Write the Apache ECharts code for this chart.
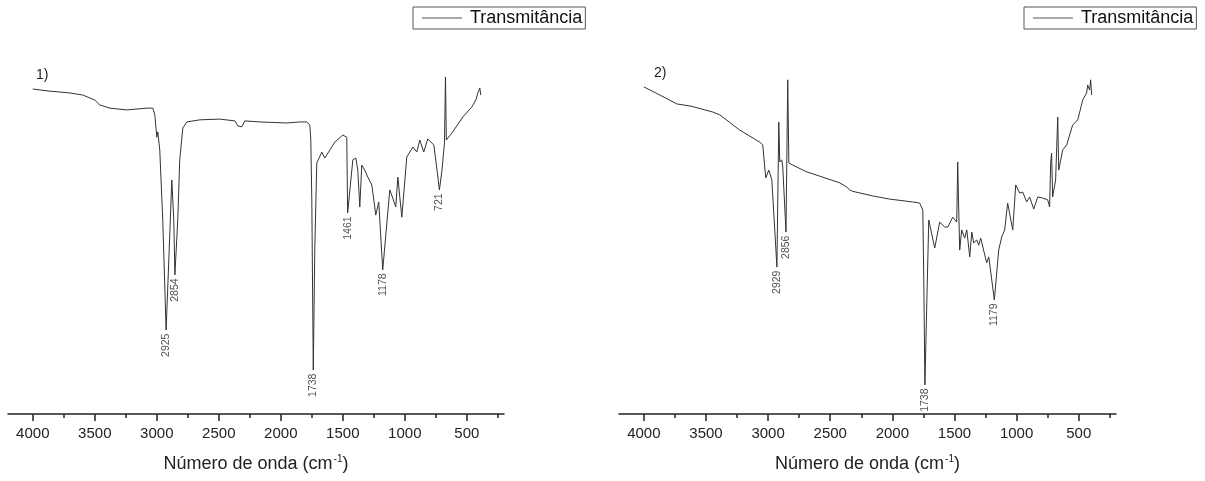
<!DOCTYPE html>
<html>
<head>
<meta charset="utf-8">
<script src="https://cdn.jsdelivr.net/npm/echarts@6/dist/echarts.min.js"></script>
<style>
  html, body { margin: 0; padding: 0; background: #fff; }
  #chart { width: 1205px; height: 481px; }
</style>
</head>
<body>
<div id="chart"></div>
<script>
// espectro 1) - numero de onda (cm-1) e transmitancia (%)
var wn1 = [4000,3863,3702,3597,3500,3460,3379,3242,3081,3032,3016,3000,2992,2976,2952,2925,2903,2879,2863,2854,
  2831,2815,2790,2758,2653,2492,2371,2347,2331,2315,2290,2169,1952,1847,1790,1766,1758,1750,1738,1726,
  1710,1669,1645,1565,1500,1468,1461,1419,1395,1379,1363,1347,1323,1298,1266,1234,1210,1178,1121,1097,
  1073,1056,1024,984,935,903,879,847,815,766,740,721,700,680,672,665,613,532,460,427,411,395,387];
var t1 = [91.8,91.2,90.7,90.1,88.7,87.3,86.4,85.9,86.4,86.4,84.5,78.2,79.7,74.6,54.8,23.7,43.5,66.1,54.8,39.3,
  54.8,71.8,80.8,82.5,83.1,83.3,82.8,81.4,81.9,81.1,82.8,82.5,82.2,82.5,82.5,81.6,77.4,60.5,12.4,46.3,
  70.9,74.0,72.3,76.8,78.8,78.2,56.8,71.8,72.3,68.9,58.5,70.3,68.9,66.9,64.7,56.2,59.9,40.7,63.3,61.0,
  58.5,66.9,55.6,72.6,75.4,74.0,77.4,74.0,77.7,76.0,68.9,63.3,68.9,76.6,95.2,77.4,79.7,83.9,86.7,88.7,90.7,92.1,90.1];
var peaks1 = [2925, 2854, 1738, 1461, 1178, 721];

// espectro 2)
var wn2 = [4000,3871,3735,3614,3445,3389,3228,3067,3043,3019,2994,2970,2944,2929,2914,2906,2890,2882,2856,2842,
  2833,2801,2689,2423,2367,2343,2319,2158,2021,1836,1780,1755,1747,1738,1707,1659,1619,1578,1554,1514,
  1482,1474,1466,1458,1442,1418,1401,1377,1361,1345,1321,1305,1289,1241,1224,1179,1144,1120,1096,1072,
  1031,1007,975,951,919,895,862,830,790,750,734,726,718,710,686,669,661,629,597,549,508,492,468,436,428,412,404,396];
var t2 = [92.4,90.1,87.6,86.9,85.3,84.5,80.2,76.8,76.0,66.7,68.9,66.1,50.6,41.5,82.5,71.2,71.8,69.8,51.4,94.4,
  70.9,70.3,68.4,65.3,64.1,63.3,62.9,61.6,60.7,59.9,59.6,57.6,37.9,8.2,54.8,46.9,54.2,52.8,52.8,55.6,
  54.2,71.2,58.2,46.3,52.0,49.7,52.0,44.4,51.4,48.3,49.2,47.7,49.7,42.7,44.4,32.2,46.3,50.0,52.0,59.6,
  52.0,64.7,62.4,62.7,59.9,61.3,57.9,61.3,61.0,60.5,58.5,70.9,73.7,61.3,66.1,83.9,68.9,74.6,76.0,81.6,
  83.1,85.3,88.7,90.7,92.9,91.5,94.4,90.1];
var peaks2 = [2929, 2856, 1738, 1179];

var majorTicks = [500,1000,1500,2000,2500,3000,3500,4000];
var minorTicks = [250,750,1250,1750,2250,2750,3250,3750];

var FONT = '"Liberation Sans", Arial, sans-serif';

function zip(a, b) {
  var out = [];
  for (var i = 0; i < a.length; i++) out.push([a[i], b[i]]);
  return out;
}
function peakPoints(peaks, wn, t) {
  return peaks.map(function (p) { return [p, t[wn.indexOf(p)]]; });
}

function majorAxis(gridIndex) {
  return {
    type: 'value', gridIndex: gridIndex, position: 'bottom', inverse: true, min: 200, max: 4200,
    name: 'Número de onda (cm{sup|-1})',
    nameLocation: 'middle', nameGap: 40,
    nameTextStyle: {
      fontSize: 18, color: '#222', fontFamily: FONT,
      rich: { sup: { fontSize: 10, verticalAlign: 'top', padding: [0, 0, 10, 1], color: '#222', fontFamily: FONT } }
    },
    axisLine: { lineStyle: { color: '#222', width: 1.5 } },
    axisTick: { length: 7, customValues: majorTicks, lineStyle: { color: '#222', width: 1.5 } },
    axisLabel: {
      customValues: majorTicks, margin: 12, fontSize: 15, color: '#222', fontFamily: FONT,
      formatter: function (v) { return String(v); }
    },
    splitLine: { show: false }
  };
}
function minorAxis(gridIndex) {
  return {
    type: 'value', gridIndex: gridIndex, position: 'bottom', inverse: true, min: 200, max: 4200,
    axisLine: { show: false },
    axisTick: { length: 4, customValues: minorTicks, lineStyle: { color: '#222', width: 1.5 } },
    axisLabel: { show: false },
    splitLine: { show: false }
  };
}
function legendAt(left) {
  return {
    data: ['Transmitância'], left: left, top: 7,
    padding: [2, 3, 2, 9], itemWidth: 40, itemHeight: 1, icon: 'rect',
    itemStyle: { color: '#555' },
    borderColor: '#555', borderWidth: 1,
    textStyle: { fontSize: 18, color: '#111', fontFamily: FONT, padding: [0, 0, 0, 3] }
  };
}
function spectrum(data, xi, yi) {
  return {
    name: 'Transmitância', type: 'line', xAxisIndex: xi, yAxisIndex: yi,
    data: data, symbol: 'none', lineStyle: { color: '#333', width: 1 },
    itemStyle: { color: '#333' }
  };
}
function peakLabels(data, xi, yi) {
  return {
    type: 'scatter', xAxisIndex: xi, yAxisIndex: yi, data: data,
    symbolSize: 1, itemStyle: { color: 'rgba(0,0,0,0)' }, silent: true,
    label: {
      show: true, position: 'bottom', distance: 3, rotate: 90,
      align: 'right', verticalAlign: 'middle',
      fontSize: 10.5, color: '#222', fontFamily: FONT,
      formatter: function (p) { return String(p.value[0]); }
    }
  };
}

var chart = echarts.init(document.getElementById('chart'));
var option = {
  animation: false,
  backgroundColor: '#fff',
  title: [
    { text: '1)', left: 31, top: 63, textStyle: { fontSize: 14, fontWeight: 'normal', color: '#222', fontFamily: FONT } },
    { text: '2)', left: 649, top: 61, textStyle: { fontSize: 14, fontWeight: 'normal', color: '#222', fontFamily: FONT } }
  ],
  legend: [legendAt(413), legendAt(1024)],
  grid: [
    { left: 8, right: 701, top: 60, bottom: 67 },
    { left: 619, right: 89, top: 60, bottom: 67 }
  ],
  xAxis: [majorAxis(0), minorAxis(0), majorAxis(1), minorAxis(1)],
  yAxis: [
    { type: 'value', gridIndex: 0, min: 0, max: 100, show: false },
    { type: 'value', gridIndex: 1, min: 0, max: 100, show: false }
  ],
  series: [
    spectrum(zip(wn1, t1), 0, 0),
    peakLabels(peakPoints(peaks1, wn1, t1), 0, 0),
    spectrum(zip(wn2, t2), 2, 1),
    peakLabels(peakPoints(peaks2, wn2, t2), 2, 1)
  ]
};
chart.setOption(option);
</script>
</body>
</html>
